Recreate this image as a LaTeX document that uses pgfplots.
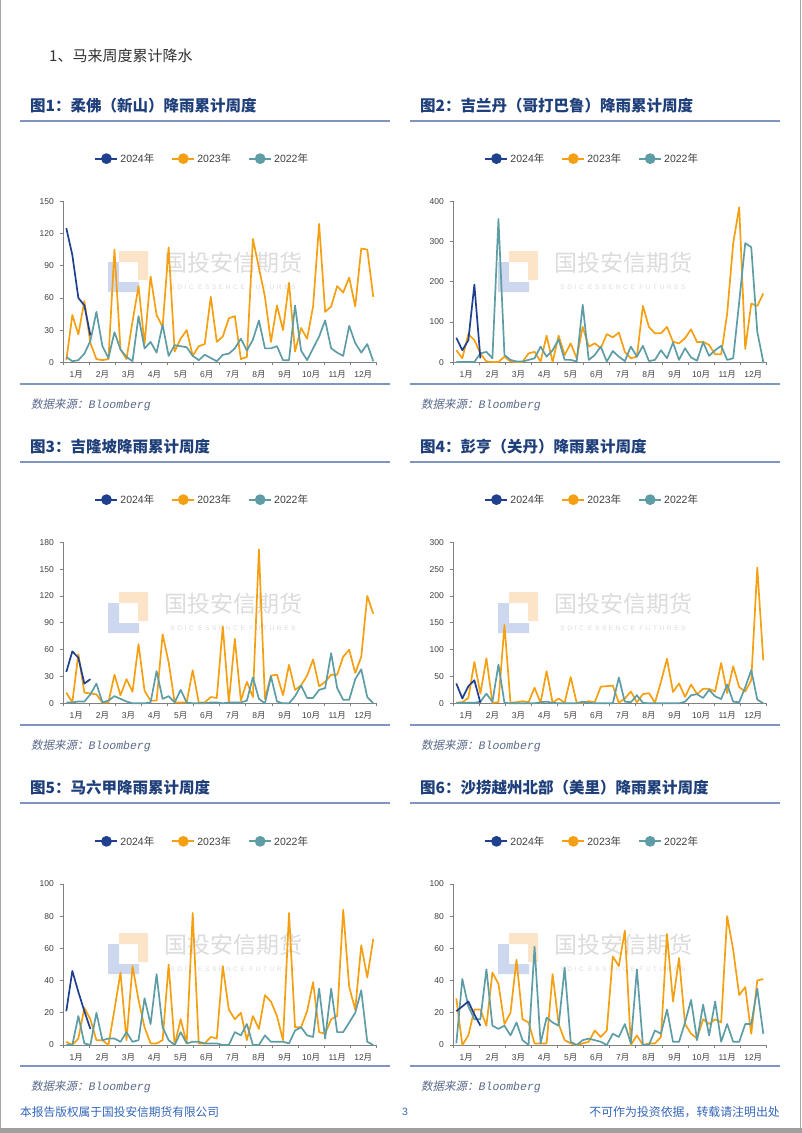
\documentclass[border=0pt]{standalone}
\usepackage{fontspec}
\setmainfont{Liberation Sans}
\setmonofont{Liberation Mono}
\newfontfamily\cjk{Noto Sans CJK SC}
\newfontfamily\cjkit[FakeSlant=0.2]{Noto Sans CJK SC}
\usepackage{pgfplots}
\pgfplotsset{compat=1.18}
\definecolor{c24}{HTML}{1F3F8F}
\definecolor{c23}{HTML}{F5A012}
\definecolor{c22}{HTML}{5E9DA5}
\definecolor{ttl}{HTML}{1F3F7A}
\definecolor{rulec}{HTML}{7F95BF}
\definecolor{srcc}{HTML}{5A6A8A}
\definecolor{footc}{HTML}{3366BB}
\definecolor{wmt}{HTML}{DCDCDC}
\definecolor{wmo}{HTML}{FBE4C8}
\definecolor{wmb}{HTML}{CDD8EE}
\definecolor{axgray}{HTML}{808080}
\definecolor{tlgray}{HTML}{404040}
\protected\def\yue{{\cjk 月}}
\protected\def\nian{{\cjk 年}}
\pgfplotsset{
  rain/.style={
    scale only axis, width=313pt, height=161pt, anchor=south west,
    xmin=0, xmax=52, ymin=0, clip=false,
    axis lines*=left,
    axis line style={draw=axgray, line width=0.8pt},
    tick align=outside, major tick length=3pt,
    tick style={draw=axgray, line width=0.8pt},
    xtick={0,4.33333,8.66667,13,17.33333,21.66667,26,30.33333,34.66667,39,43.33333,47.66667,52},
    xticklabels={,,,,,,,,,,,,},
    extra x ticks={2.16667,6.5,10.83333,15.16667,19.5,23.83333,28.16667,32.5,36.83333,41.16667,45.5,49.83333},
    extra x tick labels={1\yue,2\yue,3\yue,4\yue,5\yue,6\yue,7\yue,8\yue,9\yue,10\yue,11\yue,12\yue},
    extra x tick style={major tick length=0pt},
    ticklabel style={font=\fontsize{8.5}{10}\selectfont, text=tlgray},
    xticklabel style={yshift=-5pt},
    yticklabel style={xshift=-3pt},
    /pgf/number format/assume math mode=true,
    legend style={draw=none, fill=none, at={(0.444,1.265)}, anchor=center, legend columns=3,
      font=\fontsize{10.5}{12}\selectfont, text=tlgray,
      /tikz/every even column/.append style={column sep=15pt}},
    legend image code/.code={\draw[##1, line width=2pt] (-4pt,0pt) -- (18pt,0pt); \fill[##1] (7pt,0pt) circle (4.5pt);},
    every axis plot/.append style={line width=1.7pt, line join=round},
  }
}
\newcommand\legendset{%
  \addlegendimage{c24}\addlegendentry{2024\nian}
  \addlegendimage{c23}\addlegendentry{2023\nian}
  \addlegendimage{c22}\addlegendentry{2022\nian}}
\newcommand\series[2]{\addplot[#1, forget plot] table[x expr=\coordindex+0.5, y index=0, header=false, row sep=\\] {#2};}
\newcommand\panel[3]{%
\begin{scope}[xshift=#1pt, yshift=-#2pt]
  \node[anchor=west, inner sep=0pt, text=ttl, font=\cjk\bfseries\fontsize{15.5}{17}\selectfont] at (30pt,-106pt) {#3};
  \draw[rulec, line width=1.8pt] (20pt,-121pt) -- (390pt,-121pt);
  \draw[rulec, line width=1.8pt] (20pt,-384pt) -- (390pt,-384pt);
  \node[anchor=west, inner sep=0pt, text=srcc, font=\fontsize{11.5}{13}\selectfont] at (31pt,-405pt) {{\cjkit 数据来源：}\texttt{\itshape Bloomberg}};
  \fill[wmo] (119pt,-251pt) -- (148pt,-251pt) -- (148pt,-280pt) -- (138pt,-280pt) -- (138pt,-262pt) -- (119pt,-262pt) -- cycle;
  \fill[wmb] (108pt,-262pt) -- (119pt,-262pt) -- (119pt,-282pt) -- (139pt,-282pt) -- (139pt,-292pt) -- (108pt,-292pt) -- cycle;
  \node[text=wmt, font=\cjk\fontsize{23}{25}\selectfont] at (233pt,-263pt) {国投安信期货};
  \node[text=wmt, font=\fontsize{6.5}{8}\selectfont] at (233pt,-287pt) {\addfontfeature{LetterSpace=40}SDIC ESSENCE FUTURES};
\end{scope}}
\begin{document}
\begin{tikzpicture}
\path[use as bounding box] (0pt,0pt) rectangle (802pt,-1133pt);
\fill[white] (0pt,0pt) rectangle (802pt,-1133pt);
\draw[gray!70, line width=1pt] (0.8pt,0pt) -- (0.8pt,-1128pt);
\draw[gray!70, line width=1pt] (800.5pt,0pt) -- (800.5pt,-1128pt);
\fill[gray!75] (0pt,-1128pt) rectangle (802pt,-1133pt);
\node[anchor=west, inner sep=0pt, text=black!80, font=\cjk\fontsize{15}{17}\selectfont] at (49pt,-56pt) {1、马来周度累计降水};
\panel{0}{0}{图1：柔佛（新山）降雨累计周度}
\panel{390}{0}{图2：吉兰丹（哥打巴鲁）降雨累计周度}
\panel{0}{341}{图3：吉隆坡降雨累计周度}
\panel{390}{341}{图4：彭亨（关丹）降雨累计周度}
\panel{0}{682}{图5：马六甲降雨累计周度}
\panel{390}{682}{图6：沙捞越州北部（美里）降雨累计周度}
\node[anchor=west, inner sep=0pt, text=footc, font=\cjk\fontsize{11.7}{13}\selectfont] at (20pt,-1112pt) {本报告版权属于国投安信期货有限公司};
\node[inner sep=0pt, text=footc, font=\fontsize{10.5}{12}\selectfont] at (405pt,-1112pt) {3};
\node[anchor=east, inner sep=0pt, text=footc, font=\cjk\fontsize{11.9}{13}\selectfont] at (780pt,-1112pt) {不可作为投资依据，转载请注明出处};

% Chart 1
\begin{axis}[rain, at={(63.3pt,-362.3pt)}, ymax=150, ytick={0,30,...,150}]
\legendset
\series{c23}{2\\44\\26\\57\\18\\3\\2\\3\\105\\12\\3\\38\\71\\17\\80\\44\\33\\107\\10\\22\\30\\6\\15\\17\\61\\19\\24\\41\\43\\3\\5\\115\\88\\61\\19\\53\\30\\74\\10\\32\\22\\52\\129\\47\\52\\71\\65\\79\\52\\106\\105\\61\\}
\series{c22}{5\\1\\2\\8\\20\\47\\15\\4\\28\\12\\5\\1\\43\\13\\19\\9\\35\\6\\16\\15\\14\\6\\2\\7\\4\\1\\7\\8\\13\\22\\11\\21\\39\\13\\13\\15\\2\\2\\53\\11\\2\\13\\24\\39\\13\\9\\6\\34\\18\\9\\17\\1\\}
\series{c24}{125\\100\\60\\53\\25\\}
\end{axis}
% Chart 2
\begin{axis}[rain, at={(453.3pt,-362.3pt)}, ymax=400, ytick={0,100,...,400}]
\legendset
\series{c23}{30\\10\\70\\55\\22\\2\\1\\1\\14\\2\\1\\1\\22\\26\\2\\66\\1\\66\\18\\47\\10\\88\\39\\47\\35\\70\\62\\74\\26\\10\\14\\140\\88\\72\\72\\88\\51\\47\\60\\82\\50\\51\\43\\20\\20\\121\\296\\385\\33\\146\\140\\171\\}
\series{c22}{1\\1\\1\\1\\22\\26\\10\\356\\18\\6\\2\\2\\6\\10\\39\\14\\30\\57\\6\\6\\2\\143\\6\\18\\39\\2\\28\\14\\3\\39\\14\\41\\3\\6\\30\\10\\49\\6\\35\\12\\4\\50\\16\\30\\41\\6\\10\\150\\296\\286\\76\\1\\}
\series{c24}{61\\30\\55\\193\\10\\}
\end{axis}
% Chart 3
\begin{axis}[rain, at={(63.3pt,-703.3pt)}, ymax=180, ytick={0,30,...,180}]
\legendset
\series{c23}{12\\1\\55\\12\\11\\10\\1\\1\\32\\9\\27\\13\\66\\14\\3\\3\\77\\46\\1\\1\\1\\37\\1\\1\\7\\6\\86\\1\\72\\3\\24\\7\\172\\5\\31\\32\\9\\43\\15\\20\\31\\49\\19\\24\\32\\32\\52\\60\\34\\52\\120\\100\\}
\series{c22}{1\\1\\2\\2\\10\\22\\1\\3\\8\\5\\2\\0\\0\\0\\1\\36\\5\\8\\1\\15\\1\\0\\0\\0\\1\\1\\0\\1\\1\\1\\3\\29\\5\\0\\30\\2\\0\\0\\8\\20\\6\\6\\15\\17\\56\\17\\4\\4\\27\\38\\7\\0\\}
\series{c24}{35\\58\\51\\22\\27\\}
\end{axis}
% Chart 4
\begin{axis}[rain, at={(453.3pt,-703.3pt)}, ymax=300, ytick={0,50,...,300}]
\legendset
\series{c23}{1\\2\\10\\77\\18\\84\\1\\2\\146\\1\\2\\4\\2\\29\\1\\60\\1\\9\\1\\49\\1\\1\\4\\2\\31\\32\\33\\1\\9\\22\\2\\17\\19\\1\\40\\83\\21\\37\\12\\35\\17\\27\\27\\22\\75\\19\\69\\30\\22\\43\\253\\80\\}
\series{c22}{1\\1\\1\\1\\3\\18\\3\\72\\1\\0\\0\\0\\0\\0\\2\\3\\1\\0\\0\\0\\0\\3\\1\\0\\0\\0\\0\\48\\3\\2\\15\\1\\0\\0\\0\\0\\0\\0\\3\\15\\17\\10\\25\\13\\8\\35\\3\\2\\30\\62\\7\\0\\}
\series{c24}{37\\9\\32\\43\\1\\}
\end{axis}
% Chart 5
\begin{axis}[rain, at={(63.3pt,-1045pt)}, ymax=100, ytick={0,20,...,100}]
\legendset
\series{c23}{2\\0\\4\\23\\16\\3\\3\\0\\22\\45\\3\\49\\28\\11\\1\\1\\3\\50\\0\\16\\1\\82\\1\\1\\5\\4\\49\\22\\16\\20\\3\\18\\10\\31\\27\\18\\3\\82\\11\\11\\21\\39\\8\\7\\16\\18\\84\\36\\22\\62\\42\\66\\}
\series{c22}{0\\0\\18\\1\\0\\20\\3\\4\\4\\2\\8\\2\\3\\29\\13\\44\\11\\3\\0\\8\\1\\2\\2\\1\\1\\1\\0\\0\\8\\6\\13\\0\\0\\6\\2\\2\\2\\1\\9\\11\\6\\5\\35\\4\\35\\8\\8\\14\\20\\34\\2\\0\\}
\series{c24}{21\\46\\33\\21\\10\\}
\end{axis}
% Chart 6
\begin{axis}[rain, at={(453.3pt,-1045pt)}, ymax=100, ytick={0,20,...,100}]
\legendset
\series{c23}{29\\0\\6\\22\\22\\12\\45\\38\\13\\20\\53\\16\\14\\1\\1\\1\\44\\13\\3\\1\\0\\1\\2\\9\\5\\9\\55\\49\\71\\0\\6\\0\\1\\1\\5\\69\\27\\54\\13\\7\\4\\16\\13\\16\\14\\80\\59\\31\\36\\7\\40\\41\\}
\series{c22}{1\\41\\24\\16\\16\\47\\12\\10\\12\\6\\14\\3\\0\\61\\1\\17\\14\\12\\48\\2\\0\\3\\4\\3\\2\\0\\7\\5\\13\\1\\47\\0\\0\\9\\7\\22\\2\\2\\14\\28\\3\\25\\6\\27\\2\\13\\2\\2\\13\\13\\35\\7\\}
\series{c24}{21\\24\\27\\19\\12\\}
\end{axis}
\end{tikzpicture}
\end{document}
